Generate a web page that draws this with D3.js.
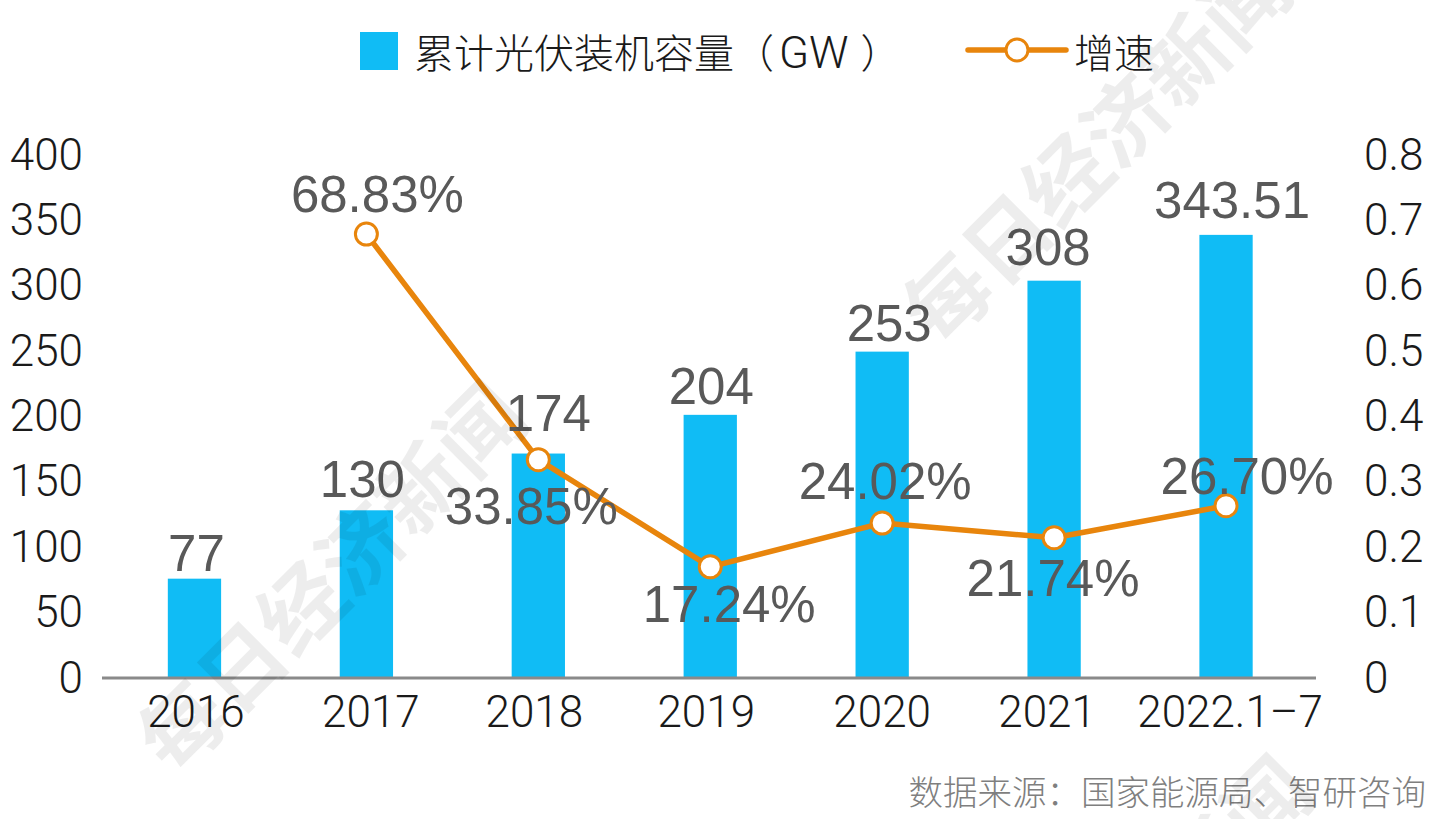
<!DOCTYPE html>
<html>
<head>
<meta charset="utf-8">
<script src="https://cdn.jsdelivr.net/npm/d3@7"></script>
<style>
html, body { margin: 0; padding: 0; background: #fff; }
text { font-family: "Liberation Sans", "Noto Sans CJK SC", sans-serif; }
</style>
</head>
<body>
<div id="chart"></div>
<script>
var categories = ["2016", "2017", "2018", "2019", "2020", "2021", "2022.1–7"];
var capacity = [77, 130, 174, 204, 253, 308, 343.51];
var growth = [null, 0.6883, 0.3385, 0.1724, 0.2402, 0.2174, 0.267];
var capacityLabels = ["77", "130", "174", "204", "253", "308", "343.51"];
var growthLabels = ["", "68.83%", "33.85%", "17.24%", "24.02%", "21.74%", "26.70%"];
var leftTicks = [0, 50, 100, 150, 200, 250, 300, 350, 400];
var rightTicks = [0, 0.1, 0.2, 0.3, 0.4, 0.5, 0.6, 0.7, 0.8];

// hand placed labels, offset from the mark or band they belong to
var capacityOffsets = [[2, -8], [-4, -13], [10, -23], [1, -11], [7, -11], [-6, -16], [6, -17]];
var growthOffsets = [[0, 0], [11, -22], [-7, 64], [19, 55], [3, -24], [-1, 58], [21, -12]];
var categoryNudges = [1.5, 4.5, -4, -4, 0, -7, 4];

var width = 1444, height = 819;
var baseY = 678, topY = 162, tickTopY = 155;
var blue = "#10bcf5", orange = "#e8850c";
var cjk = '"Noto Sans CJK SC", sans-serif';
var light = 'Roboto, "Liberation Sans", sans-serif';

var svg = d3.select("#chart").append("svg")
	.attr("width", width).attr("height", height)
	.style("display", "block");

var x = d3.scaleBand().domain(categories).range([108.5, 1312]).paddingInner(0.69).paddingOuter(0.345);
var yLeft = d3.scaleLinear().domain([0, 400]).range([baseY, topY]);
var yRight = d3.scaleLinear().domain([0, 0.8]).range([baseY, topY]);
// the tick labels sit on a slightly taller span than the bars do
var yLeftTicks = d3.scaleLinear().domain([0, 400]).range([baseY, tickTopY]);
var yRightTicks = d3.scaleLinear().domain([0, 0.8]).range([baseY, tickTopY]);

function centerX(d) {
	return x(d) + x.bandwidth() / 2;
}

function styleAxis(g) {
	g.select(".domain").remove();
	g.selectAll("line").remove();
	g.selectAll("text").attr("fill", "#1a1a1a").style("font-size", "44px")
		.style("font-family", light).style("font-weight", 300);
}

svg.append("g").selectAll("rect").data(categories).join("rect")
	.attr("x", function(d) { return x(d); })
	.attr("y", function(d, i) { return yLeft(capacity[i]); })
	.attr("width", x.bandwidth())
	.attr("height", function(d, i) { return baseY - yLeft(capacity[i]); })
	.attr("fill", blue);

svg.append("line").attr("x1", 102).attr("x2", 1316).attr("y1", baseY).attr("y2", baseY)
	.attr("stroke", "#8a8a8a").attr("stroke-width", 3);

svg.append("g").attr("transform", "translate(83,0)")
	.call(d3.axisLeft(yLeftTicks).tickValues(leftTicks).tickSize(0).tickPadding(0))
	.call(styleAxis);
svg.append("g").attr("transform", "translate(1364,0)")
	.call(d3.axisRight(yRightTicks).tickValues(rightTicks).tickSize(0).tickPadding(0).tickFormat(function(d) { return String(d); }))
	.call(styleAxis);
svg.append("g").attr("transform", "translate(0," + baseY + ")")
	.call(d3.axisBottom(x).tickSize(0).tickPadding(18))
	.call(styleAxis)
	.selectAll("text").attr("dx", function(d, i) { return categoryNudges[i]; });

var line = d3.line()
	.defined(function(d) { return d.v !== null; })
	.x(function(d) { return centerX(d.c); })
	.y(function(d) { return yRight(d.v); });
var linePoints = categories.map(function(c, i) { return { c: c, v: growth[i], label: growthLabels[i], off: growthOffsets[i] }; })
	.filter(function(d) { return d.v !== null; });

svg.append("path").attr("d", line(linePoints)).attr("fill", "none")
	.attr("stroke", orange).attr("stroke-width", 5.5).attr("stroke-linejoin", "round");
svg.append("g").selectAll("circle").data(linePoints).join("circle")
	.attr("cx", function(d) { return centerX(d.c); })
	.attr("cy", function(d) { return yRight(d.v); })
	.attr("r", 11).attr("fill", "#fff").attr("stroke", orange).attr("stroke-width", 3);

svg.append("g").selectAll("text").data(categories).join("text")
	.attr("x", function(d, i) { return centerX(d) + capacityOffsets[i][0]; })
	.attr("y", function(d, i) { return yLeft(capacity[i]) + capacityOffsets[i][1]; })
	.attr("text-anchor", "middle").attr("fill", "#595959").style("font-size", "51px")
	.text(function(d, i) { return capacityLabels[i]; });
svg.append("g").selectAll("text").data(linePoints).join("text")
	.attr("x", function(d) { return centerX(d.c) + d.off[0]; })
	.attr("y", function(d) { return yRight(d.v) + d.off[1]; })
	.attr("text-anchor", "middle").attr("fill", "#595959").style("font-size", "51px")
	.text(function(d) { return d.label; });

// legend
svg.append("rect").attr("x", 360).attr("y", 32).attr("width", 38).attr("height", 38).attr("fill", blue);
var legendText = svg.append("text").attr("x", 414).attr("y", 68).attr("fill", "#1a1a1a")
	.style("font-family", cjk).style("font-size", "40px").style("font-weight", 300);
legendText.append("tspan").text("累计光伏装机容量（");
legendText.append("tspan").attr("dx", 5).style("font-family", light).style("font-size", "44px").text("GW");
legendText.append("tspan").attr("dx", 12).text("）");
svg.append("line").attr("x1", 968).attr("x2", 1066).attr("y1", 50).attr("y2", 50)
	.attr("stroke", orange).attr("stroke-width", 5.5).attr("stroke-linecap", "round");
svg.append("circle").attr("cx", 1017).attr("cy", 50).attr("r", 11)
	.attr("fill", "#fff").attr("stroke", orange).attr("stroke-width", 3);
svg.append("text").attr("x", 1074).attr("y", 68).attr("fill", "#1a1a1a")
	.style("font-family", cjk).style("font-size", "40px").style("font-weight", 300)
	.text("增速");

svg.append("text").attr("x", 1426).attr("y", 805).attr("text-anchor", "end").attr("fill", "#7f7f7f")
	.style("font-family", cjk).style("font-size", "34.5px").style("font-weight", 300)
	.text("数据来源：国家能源局、智研咨询");

// watermark
var marks = [[175, 778], [940, 350], [962, 1152]];
svg.append("g").selectAll("text").data(marks).join("text")
	.attr("transform", function(d) { return "translate(" + d[0] + "," + d[1] + ") rotate(-45)"; })
	.attr("fill", "#000").attr("fill-opacity", 0.07)
	.style("font-family", cjk).style("font-size", "84px").style("font-weight", 700)
	.text("每日经济新闻");
</script>
</body>
</html>
